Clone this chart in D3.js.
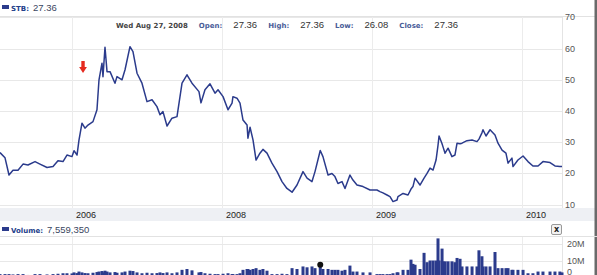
<!DOCTYPE html>
<html>
<head>
<meta charset="utf-8">
<script src="https://cdn.jsdelivr.net/npm/d3@7"></script>
<style>
  body { margin: 0; background: #fff; overflow: hidden; }
  svg { display: block; }
</style>
</head>
<body>
<div id="chart"></div>
<script>

// ---- data ----
// time as fractional years
const dates = [
  2005.04, 2005.107, 2005.16, 2005.213, 2005.28, 2005.347, 2005.413, 2005.507, 2005.573, 2005.667,
  2005.747, 2005.813, 2005.88, 2005.933, 2006.0, 2006.027, 2006.067, 2006.093, 2006.133, 2006.173,
  2006.213, 2006.28, 2006.333, 2006.36, 2006.4, 2006.413, 2006.44, 2006.467, 2006.507, 2006.573,
  2006.6, 2006.667, 2006.707, 2006.773, 2006.813, 2006.867, 2006.933, 2007.0, 2007.067, 2007.133,
  2007.173, 2007.213, 2007.267, 2007.333, 2007.4, 2007.467, 2007.533, 2007.6, 2007.693, 2007.72,
  2007.773, 2007.84, 2007.907, 2007.947, 2008.007, 2008.04, 2008.067, 2008.073, 2008.1, 2008.12,
  2008.14, 2008.167, 2008.173, 2008.187, 2008.207, 2008.227, 2008.253, 2008.273, 2008.3, 2008.333,
  2008.367, 2008.4, 2008.433, 2008.467, 2008.5, 2008.54, 2008.567, 2008.6, 2008.62, 2008.655,
  2008.673, 2008.707, 2008.733, 2008.753, 2008.773, 2008.8, 2008.82, 2008.853, 2008.873, 2008.9,
  2008.94, 2008.987, 2009.033, 2009.053, 2009.073, 2009.1, 2009.12, 2009.14, 2009.167, 2009.173,
  2009.207, 2009.24, 2009.26, 2009.273, 2009.287, 2009.32, 2009.347, 2009.367, 2009.387, 2009.407,
  2009.427, 2009.44, 2009.447, 2009.467, 2009.473, 2009.487, 2009.507, 2009.533, 2009.553, 2009.567,
  2009.587, 2009.6, 2009.633, 2009.667, 2009.7, 2009.713, 2009.733, 2009.74, 2009.76, 2009.787,
  2009.82, 2009.84, 2009.867, 2009.893, 2009.907, 2009.933, 2009.94, 2009.973, 2010.007, 2010.04,
  2010.073, 2010.107, 2010.14, 2010.187, 2010.22, 2010.253, 2010.267
];

const prices = [
  26.7, 25.0, 19.5, 21.0, 21.0, 23.0, 22.7, 23.8, 23.0, 21.9,
  22.2, 24.1, 23.8, 25.9, 25.4, 27.3, 25.9, 30.7, 36.1, 34.5,
  35.5, 36.6, 40.4, 50.0, 55.3, 51.0, 60.4, 52.6, 52.6, 48.9,
  51.0, 50.0, 53.2, 60.6, 59.0, 52.1, 48.9, 43.0, 43.6, 41.4,
  38.8, 39.8, 35.2, 37.7, 38.2, 48.9, 51.6, 48.9, 46.2, 42.6,
  46.8, 48.7, 45.7, 46.8, 44.6, 40.4, 42.5, 44.6, 44.1, 42.5,
  37.1, 35.5, 31.3, 34.8, 30.7, 24.3, 26.5, 27.7, 26.5, 23.3,
  20.6, 17.4, 15.2, 14.0, 16.3, 20.6, 18.5, 17.4, 20.6, 27.36,
  25.4, 19.5, 20.0, 19.0, 16.8, 17.4, 15.2, 19.5, 17.9, 16.3,
  15.8, 14.7, 14.7, 14.2, 13.8, 13.1, 12.6, 11.0, 11.5, 12.6,
  13.6, 13.1, 15.0, 15.8, 18.5, 16.3, 18.5, 20.0, 21.7, 21.1,
  24.3, 29.0, 32.0, 29.5, 28.6, 26.5, 28.1, 25.4, 25.9, 29.7,
  29.5, 29.7, 30.5, 30.7, 30.2, 31.0, 33.0, 34.0, 32.0, 34.0,
  32.3, 29.7, 27.5, 26.5, 23.3, 24.9, 22.2, 24.3, 25.6, 23.8,
  22.4, 22.4, 23.8, 23.5, 22.4, 22.2, 22.2
];

// volume in millions of shares
const volumes = [
  2.0, 2.0, 2.0, 1.8, 2.0, 2.0, 1.5, 2.0, 2.0, 1.8,
  2.0, 2.2, 2.5, 2.5, 2.4, 3.0, 2.6, 3.5, 3.0, 2.6,
  2.5, 2.8, 3.2, 3.5, 3.8, 3.0, 4.0, 3.5, 3.0, 3.2,
  2.8, 3.0, 3.5, 4.0, 3.8, 3.0, 2.5, 2.8, 2.5, 2.6,
  3.0, 2.6, 3.0, 2.5, 3.0, 4.5, 5.0, 4.2, 3.0, 3.2,
  2.5, 2.2, 2.0, 2.0, 2.2, 2.5, 2.0, 2.0, 2.0, 2.5,
  4.5, 5.0, 5.0, 4.5, 5.0, 5.5, 4.5, 5.0, 4.0, 2.0,
  2.0, 2.2, 2.0, 5.5, 5.0, 6.5, 6.0, 6.5, 5.5, 7.56,
  5.0, 5.0, 4.5, 4.5, 4.5, 4.0, 4.5, 7.0, 3.5, 3.5,
  3.0, 3.0, 2.0, 2.0, 2.0, 2.0, 2.0, 2.5, 3.0, 3.0,
  4.5, 4.5, 10.5, 8.0, 7.5, 5.0, 14.5, 9.0, 10.0, 10.0,
  10.0, 23.0, 10.0, 17.0, 9.5, 9.5, 9.5, 9.5, 9.0, 11.5,
  11.0, 6.5, 6.5, 6.5, 6.5, 16.0, 12.5, 6.5, 6.5, 6.5,
  15.0, 5.5, 5.5, 5.5, 5.5, 4.5, 4.5, 4.5, 4.5, 2.5,
  2.5, 3.5, 3.5, 3.5, 3.5, 3.5, 3.0
];

const priceTicks = [10, 20, 30, 40, 50, 60, 70];
const yearTicks = [2006, 2008, 2009, 2010];
const yearLabels = ["2006", "2008", "2009", "2010"];
const volumeTicks = [0, 10, 20];
const volumeTickLabels = ["0", "10M", "20M"];

// selected day shown in the header
const symbol = "STB";
const selDate = 2008.655;
const selLabel = "Wed Aug 27, 2008";
const quoteNames = ["Open:", "High:", "Low:", "Close:"];
const quoteValues = ["27.36", "27.36", "26.08", "27.36"];
const selVolume = "7,559,350";
// red arrow annotation
const arrowDate = 2006.147;
const arrowPrice = 56;


class StockChart {

	constructor(_parentElement) {
		this.parentElement = _parentElement;
		this.navy = "#2b3b8c";
		this.initVis();
	}

	initVis() {
		let vis = this;

		vis.width = 597;
		vis.height = 275;
		vis.plotRight = 562;

		vis.svg = d3.select("#" + vis.parentElement).append("svg")
			.attr("width", vis.width)
			.attr("height", vis.height)
			.style("font-family", "'Liberation Sans', Arial, sans-serif");

		// the year spacing on this chart is uneven, so use a polylinear scale
		vis.x = d3.scaleLinear()
			.domain([2005.04, 2006, 2008, 2009, 2010, 2010.267])
			.range([0, 72, 222, 372, 522, vis.plotRight]);

		vis.y = d3.scaleLinear()
			.domain([10, 70])
			.range([204.7, 17.3]);

		vis.yVol = d3.scaleLinear()
			.domain([0, 20])
			.range([277.5, 243.5]);

		vis.drawFrame();
		vis.drawPrice();
		vis.drawVolume();
		vis.drawHeader();
	}

	drawFrame() {
		let vis = this;

		// header separator
		vis.svg.append("line")
			.attr("x1", 0).attr("x2", vis.width)
			.attr("y1", 16.5).attr("y2", 16.5)
			.attr("stroke", "#e2e2e2");

		// horizontal grid, price panel
		vis.svg.append("g").selectAll("line")
			.data(priceTicks)
			.enter().append("line")
			.attr("x1", 0).attr("x2", vis.plotRight)
			.attr("y1", d => Math.round(vis.y(d)) + 0.5)
			.attr("y2", d => Math.round(vis.y(d)) + 0.5)
			.attr("stroke", "#e8e8e8");

		// vertical grid, both panels
		let vg = vis.svg.append("g");
		[[17, 208], [236, 275]].forEach(r => {
			vg.selectAll(null)
				.data(yearTicks)
				.enter().append("line")
				.attr("x1", d => Math.round(vis.x(d)) + 0.5)
				.attr("x2", d => Math.round(vis.x(d)) + 0.5)
				.attr("y1", r[0]).attr("y2", r[1])
				.attr("stroke", "#ececec");

			vg.append("line")
				.attr("x1", vis.plotRight + 0.5).attr("x2", vis.plotRight + 0.5)
				.attr("y1", r[0]).attr("y2", r[1])
				.attr("stroke", "#e4e4e4");
		});

		// x axis band
		vis.svg.append("rect")
			.attr("x", 0).attr("y", 208)
			.attr("width", vis.width).attr("height", 13)
			.attr("fill", "#eef0f4");

		vis.svg.append("g").selectAll("text")
			.data(yearTicks)
			.enter().append("text")
			.attr("x", d => vis.x(d) + 4)
			.attr("y", 218)
			.attr("font-size", "9px")
			.attr("fill", "#222")
			.text((d, i) => yearLabels[i]);

		// right price labels
		vis.svg.append("g").selectAll("text")
			.data(priceTicks)
			.enter().append("text")
			.attr("x", 565)
			.attr("y", d => vis.y(d) + 3)
			.attr("font-size", "9px")
			.attr("fill", "#555")
			.text(d => d);

		// dark border on the right edge
		vis.svg.append("rect")
			.attr("x", 594.5).attr("y", 0)
			.attr("width", 2.5).attr("height", vis.height)
			.attr("fill", "#6a6a6a");
	}

	drawPrice() {
		let vis = this;

		vis.line = d3.line()
			.x((d, i) => vis.x(dates[i]))
			.y(d => vis.y(d));

		vis.svg.append("path")
			.datum(prices)
			.attr("fill", "none")
			.attr("stroke", vis.navy)
			.attr("stroke-width", 1.5)
			.attr("stroke-linejoin", "round")
			.attr("d", vis.line);

		// red down arrow
		let ax = vis.x(arrowDate), ay = vis.y(arrowPrice);
		vis.svg.append("path")
			.attr("fill", "#e52a1f")
			.attr("d", `M${ax - 1.7},${ay} h3.4 v6 h2.2 l-3.9,6 l-3.9,-6 h2.2 z`);
	}

	drawVolume() {
		let vis = this;

		// volume header row
		vis.svg.append("line")
			.attr("x1", 0).attr("x2", vis.width)
			.attr("y1", 236.5).attr("y2", 236.5)
			.attr("stroke", "#e2e2e2");

		vis.svg.append("g").selectAll("line")
			.data(volumeTicks.filter(d => d > 0))
			.enter().append("line")
			.attr("x1", 0).attr("x2", vis.plotRight)
			.attr("y1", d => Math.round(vis.yVol(d)) + 0.5)
			.attr("y2", d => Math.round(vis.yVol(d)) + 0.5)
			.attr("stroke", "#e8e8e8");

		// the zero label sits at the bottom edge, keep it inside the window
		vis.svg.append("g").selectAll("text")
			.data(volumeTicks)
			.enter().append("text")
			.attr("x", 567)
			.attr("y", d => Math.min(vis.yVol(d) + 3, vis.height - 0.5))
			.attr("font-size", "9px")
			.attr("fill", "#555")
			.text((d, i) => volumeTickLabels[i]);

		vis.svg.append("g").selectAll("rect")
			.data(volumes)
			.enter().append("rect")
			.attr("x", (d, i) => vis.x(dates[i]) - 1.5)
			.attr("width", 3)
			.attr("y", d => vis.yVol(d))
			.attr("height", d => vis.yVol(0) - vis.yVol(d))
			.attr("fill", vis.navy);

		// marker for the selected day
		let si = dates.indexOf(selDate);
		vis.svg.append("circle")
			.attr("cx", vis.x(selDate))
			.attr("cy", vis.yVol(volumes[si]))
			.attr("r", 3)
			.attr("fill", "#111");

		// close button
		let b = vis.svg.append("g").attr("transform", "translate(551.5,224.5)");
		b.append("rect")
			.attr("width", 10).attr("height", 10).attr("rx", 1.5)
			.attr("fill", "#f2f2f2")
			.attr("stroke", "#999");
		b.append("text")
			.attr("x", 5).attr("y", 7.8)
			.attr("text-anchor", "middle")
			.attr("font-family", "'DejaVu Sans', Verdana, sans-serif")
			.attr("font-weight", "bold")
			.attr("font-size", "8px")
			.attr("fill", "#222")
			.text("x");

		vis.legendRow(233, "Volume:", selVolume);
	}

	legendRow(baseline, label, value) {
		let vis = this;
		vis.svg.append("rect")
			.attr("x", 2).attr("y", baseline - 6)
			.attr("width", 7).attr("height", 4)
			.attr("fill", vis.navy);

		let t = vis.svg.append("text")
			.attr("x", 11).attr("y", baseline);
		t.append("tspan")
			.attr("font-family", "'DejaVu Sans', Verdana, sans-serif")
			.attr("font-weight", "bold")
			.attr("font-size", "7px")
			.attr("fill", "#23408a")
			.text(label);
		t.append("tspan")
			.attr("dx", 4)
			.attr("font-size", "9.5px")
			.attr("fill", "#3a4660")
			.text(value);
	}

	drawHeader() {
		let vis = this;

		vis.legendRow(11, symbol + ":", quoteValues[3]);

		let info = vis.svg.append("text")
			.attr("x", 116).attr("y", 28);

		info.append("tspan")
			.attr("font-family", "'DejaVu Sans', Verdana, sans-serif")
			.attr("font-weight", "bold")
			.attr("font-size", "7px")
			.attr("fill", "#444")
			.text(selLabel);

		quoteNames.forEach((name, i) => {
			info.append("tspan")
				.attr("dx", 11)
				.attr("font-family", "'DejaVu Sans', Verdana, sans-serif")
				.attr("font-weight", "bold")
				.attr("font-size", "7px")
				.attr("fill", "#4a5d98")
				.text(name);
			info.append("tspan")
				.attr("dx", 11)
				.attr("font-size", "9.5px")
				.attr("fill", "#333")
				.text(quoteValues[i]);
		});
	}
}

new StockChart("chart");

</script>
</body>
</html>
